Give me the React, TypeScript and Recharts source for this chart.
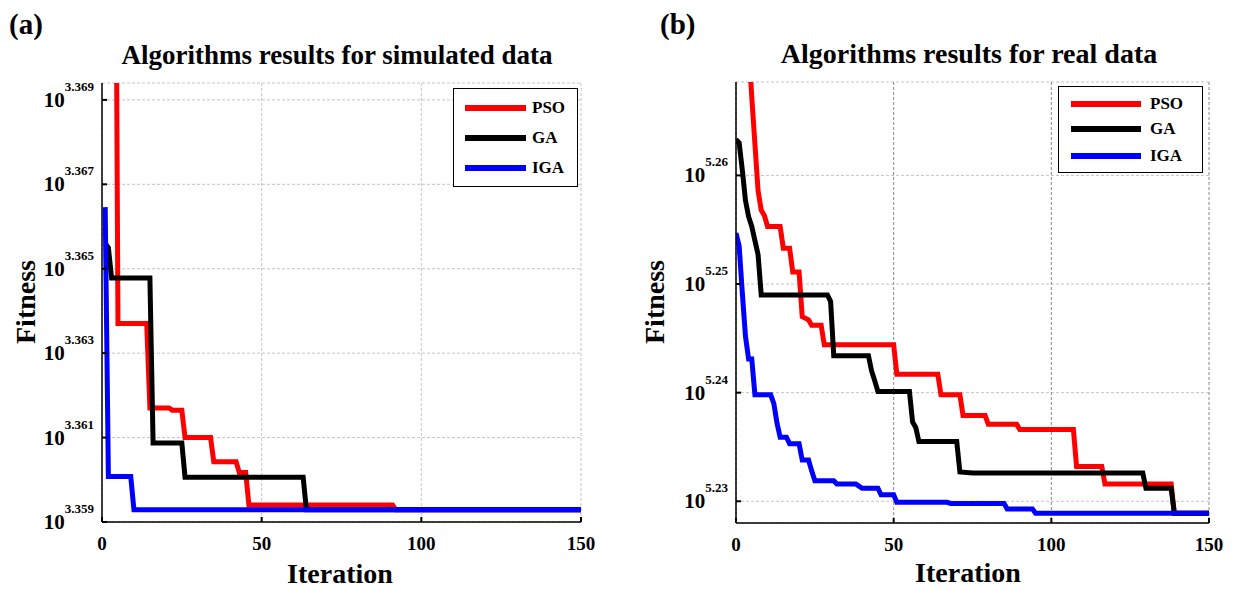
import React from 'react';
import { LineChart, Line, XAxis, YAxis, CartesianGrid } from 'recharts';

const FONT = '"Liberation Serif", "Times New Roman", Times, serif';

// x axis (iterations)
const iterTicks = [0, 50, 100, 150];

// (a) simulated data -- values are log10(fitness), y axis is log scale
const simTicks = [3.359, 3.361, 3.363, 3.365, 3.367, 3.369];
const simPsoIt = [1, 4, 5, 14, 15, 21, 22, 25, 26, 34, 35, 42, 43, 45, 46, 91, 92, 150];
const simPsoFit = [3.392, 3.378, 3.3637, 3.3637, 3.3617, 3.3617, 3.36165, 3.36165, 3.361, 3.361, 3.36043, 3.36043, 3.36017, 3.36017, 3.3594, 3.3594, 3.35929, 3.35929];
const simGaIt = [1, 2, 3, 15, 16, 25, 26, 63, 64, 150];
const simGaFit = [3.3656, 3.3655, 3.36478, 3.36478, 3.36087, 3.36087, 3.36006, 3.36006, 3.35929, 3.35929];
const simIgaIt = [1, 2, 9, 10, 150];
const simIgaFit = [3.36646, 3.36008, 3.36008, 3.35929, 3.35929];

// (b) real data
const realTicks = [5.23, 5.24, 5.25, 5.26];
const realPsoIt = [1, 4, 5, 7, 8, 9, 10, 14, 15, 17, 18, 20, 21, 23, 24, 27, 28, 50, 51, 64, 65, 71, 72, 79, 80, 89, 90, 107, 108, 116, 117, 138, 139, 150];
const realPsoFit = [5.286, 5.272, 5.2672, 5.2586, 5.2568, 5.2563, 5.2553, 5.2553, 5.2533, 5.2533, 5.2511, 5.2511, 5.247, 5.2467, 5.2462, 5.2462, 5.2444, 5.2444, 5.2417, 5.2417, 5.2398, 5.2398, 5.2379, 5.2379, 5.2371, 5.2371, 5.2366, 5.2366, 5.2332, 5.2332, 5.2316, 5.2316, 5.2289, 5.2289];
const realGaIt = [0, 1, 2, 3, 4, 5, 6, 7, 8, 29, 30, 31, 42, 43, 44, 45, 55, 56, 57, 58, 70, 71, 75, 129, 130, 138, 139, 150];
const realGaFit = [5.2633, 5.263, 5.2605, 5.2577, 5.2562, 5.2553, 5.254, 5.2527, 5.249, 5.249, 5.2484, 5.2434, 5.2434, 5.242, 5.2411, 5.2401, 5.2401, 5.2373, 5.2368, 5.2355, 5.2355, 5.2327, 5.2326, 5.2326, 5.2312, 5.2312, 5.2289, 5.2289];
const realIgaIt = [0, 1, 2, 3, 4, 5, 6, 11, 12, 13, 14, 16, 17, 20, 21, 23, 24, 25, 31, 32, 38, 39, 40, 45, 46, 50, 51, 67, 68, 85, 86, 94, 95, 150];
const realIgaFit = [5.2547, 5.2535, 5.2492, 5.2452, 5.2431, 5.2431, 5.2398, 5.2398, 5.239, 5.2372, 5.2359, 5.2359, 5.2353, 5.2353, 5.2338, 5.2338, 5.2328, 5.2319, 5.2319, 5.2316, 5.2316, 5.2314, 5.2312, 5.2312, 5.2306, 5.2306, 5.2299, 5.2299, 5.2298, 5.2298, 5.2293, 5.2293, 5.2289, 5.2289];

const seriesNames = ['PSO', 'GA', 'IGA'];
const seriesColors = ['#ff0000', '#000000', '#0000ff'];

const zip = (its: number[], vals: number[]) => its.map((it, i) => ({ it, fit: vals[i] }));

const LeftTick = ({ x, y, payload, digits }: any) => (
    <g>
        <line x1={x} x2={x + 5} y1={y} y2={y} stroke="#000" strokeWidth={2} />
        <text x={x - 8} y={y + 7} textAnchor="end" fontFamily={FONT} fontWeight="bold" fill="#000">
            <tspan fontSize={21}>10</tspan>
            <tspan fontSize={13} dy={-16}>{payload.value.toFixed(digits)}</tspan>
        </text>
    </g>
);

const RightTick = ({ x, y }: any) => (
    <line x1={x} x2={x - 5} y1={y} y2={y} stroke="#000" strokeWidth={2} />
);

const BottomTick = ({ x, y, payload }: any) => (
    <g>
        <line x1={x} x2={x} y1={y} y2={y - 5} stroke="#000" strokeWidth={2} />
        <text x={x} y={y + 28} textAnchor="middle" fontFamily={FONT} fontWeight="bold" fontSize={19} fill="#000">
            {payload.value}
        </text>
    </g>
);

const TopTick = ({ x, y }: any) => (
    <line x1={x} x2={x} y1={y} y2={y + 5} stroke="#000" strokeWidth={2} />
);

interface PanelProps {
    left: number;
    width: number;
    plotLeft: number;
    plotRight: number;
    plotTop: number;
    plotBottom: number;
    yDomain: [number, number];
    yTicks: number[];
    digits: number;
    series: { it: number; fit: number }[][];
    vGrid: string;
}

const Panel = ({ left, width, plotLeft, plotRight, plotTop, plotBottom, yDomain, yTicks, digits, series, vGrid }: PanelProps) => (
    <div style={{ position: 'absolute', left, top: 0 }}>
        <LineChart
            width={width}
            height={590}
            margin={{ top: plotTop, right: left + width - plotRight, left: 0, bottom: 0 }}
        >
            <CartesianGrid xAxisId="b" yAxisId="l" vertical={false} stroke="#c4c4c4" strokeDasharray="3 2" />
            <CartesianGrid xAxisId="b" yAxisId="l" horizontal={false} stroke={vGrid} strokeDasharray="3 2" />
            <XAxis
                xAxisId="b"
                dataKey="it"
                type="number"
                domain={[0, 150]}
                ticks={iterTicks}
                height={590 - plotBottom}
                tickSize={0}
                tickMargin={0}
                tickLine={false}
                axisLine={{ stroke: '#000', strokeWidth: 1.5 }}
                tick={<BottomTick />}
                allowDataOverflow
            />
            <XAxis
                xAxisId="t"
                orientation="top"
                dataKey="it"
                type="number"
                domain={[0, 150]}
                ticks={iterTicks}
                height={0}
                tickSize={0}
                tickMargin={0}
                tickLine={false}
                axisLine={{ stroke: '#000', strokeWidth: 1.5 }}
                tick={<TopTick />}
            />
            <YAxis
                yAxisId="l"
                type="number"
                domain={yDomain}
                ticks={yTicks}
                width={plotLeft - left}
                tickSize={0}
                tickMargin={0}
                tickLine={false}
                axisLine={{ stroke: '#000', strokeWidth: 1.5 }}
                tick={<LeftTick digits={digits} />}
                allowDataOverflow
            />
            <YAxis
                yAxisId="r"
                orientation="right"
                type="number"
                domain={yDomain}
                ticks={yTicks}
                width={0}
                tickSize={0}
                tickMargin={0}
                tickLine={false}
                axisLine={{ stroke: '#000', strokeWidth: 1.5 }}
                tick={<RightTick />}
            />
            {series.map((d, i) => (
                <Line
                    key={seriesNames[i]}
                    xAxisId="b"
                    yAxisId="l"
                    data={d}
                    dataKey="fit"
                    type="linear"
                    stroke={seriesColors[i]}
                    strokeWidth={5}
                    dot={false}
                    activeDot={false}
                    isAnimationActive={false}
                />
            ))}
        </LineChart>
    </div>
);

const LegendBox = ({ left, top, width, height, lineX, lineW, textX, rows }: any) => (
    <div
        style={{
            position: 'absolute', left, top, width, height, boxSizing: 'border-box',
            border: '1.5px solid #000', background: '#fff',
        }}
    >
        {seriesNames.map((name, i) => (
            <React.Fragment key={name}>
                <div style={{ position: 'absolute', left: lineX, top: rows[i] - 3, width: lineW, height: 6, background: seriesColors[i] }} />
                <div style={{ position: 'absolute', left: textX, top: rows[i] - 11, fontFamily: FONT, fontWeight: 'bold', fontSize: 17, lineHeight: '22px' }}>
                    {name}
                </div>
            </React.Fragment>
        ))}
    </div>
);

const txt = (extra: React.CSSProperties): React.CSSProperties => ({
    position: 'absolute', fontFamily: FONT, fontWeight: 'bold', color: '#000', whiteSpace: 'nowrap', lineHeight: 1, ...extra,
});

export default function App() {
    return (
        <div style={{ position: 'absolute', left: 0, top: 0, width: 1238, height: 590, background: '#fff', overflow: 'hidden' }}>
            <Panel
                left={0}
                width={620}
                plotLeft={102}
                plotRight={581}
                plotTop={83}
                plotBottom={522}
                yDomain={[3.359, 3.3694]}
                yTicks={simTicks}
                digits={3}
                series={[zip(simPsoIt, simPsoFit), zip(simGaIt, simGaFit), zip(simIgaIt, simIgaFit)]}
                vGrid="#c4c4c4"
            />
            <Panel
                left={620}
                width={618}
                plotLeft={736}
                plotRight={1209}
                plotTop={82}
                plotBottom={523}
                yDomain={[5.228, 5.2686]}
                yTicks={realTicks}
                digits={2}
                series={[zip(realPsoIt, realPsoFit), zip(realGaIt, realGaFit), zip(realIgaIt, realIgaFit)]}
                vGrid="#8a8a8a"
            />

            <LegendBox left={453} top={88} width={125} height={99} lineX={11} lineW={61} textX={78} rows={[19, 49, 79]} />
            <LegendBox left={1058} top={86} width={145} height={87} lineX={12} lineW={70} textX={91} rows={[17, 42, 69]} />

            {/* panel letters and titles */}
            <div style={txt({ left: 9, top: 10, fontSize: 29 })}>(a)</div>
            <div style={txt({ left: 660, top: 10, fontSize: 29 })}>(b)</div>
            <div style={txt({ left: 337, top: 42, fontSize: 27, transform: 'translateX(-50%)' })}>Algorithms results for simulated data</div>
            <div style={txt({ left: 969, top: 40, fontSize: 28, transform: 'translateX(-50%)' })}>Algorithms results for real data</div>

            {/* axis titles */}
            <div style={txt({ left: 340, top: 560, fontSize: 28, transform: 'translateX(-50%)' })}>Iteration</div>
            <div style={txt({ left: 968, top: 559, fontSize: 28, transform: 'translateX(-50%)' })}>Iteration</div>
            <div style={txt({ left: 26, top: 302, fontSize: 28, transform: 'translate(-50%, -50%) rotate(-90deg)' })}>Fitness</div>
            <div style={txt({ left: 655, top: 302, fontSize: 28, transform: 'translate(-50%, -50%) rotate(-90deg)' })}>Fitness</div>
        </div>
    );
}
